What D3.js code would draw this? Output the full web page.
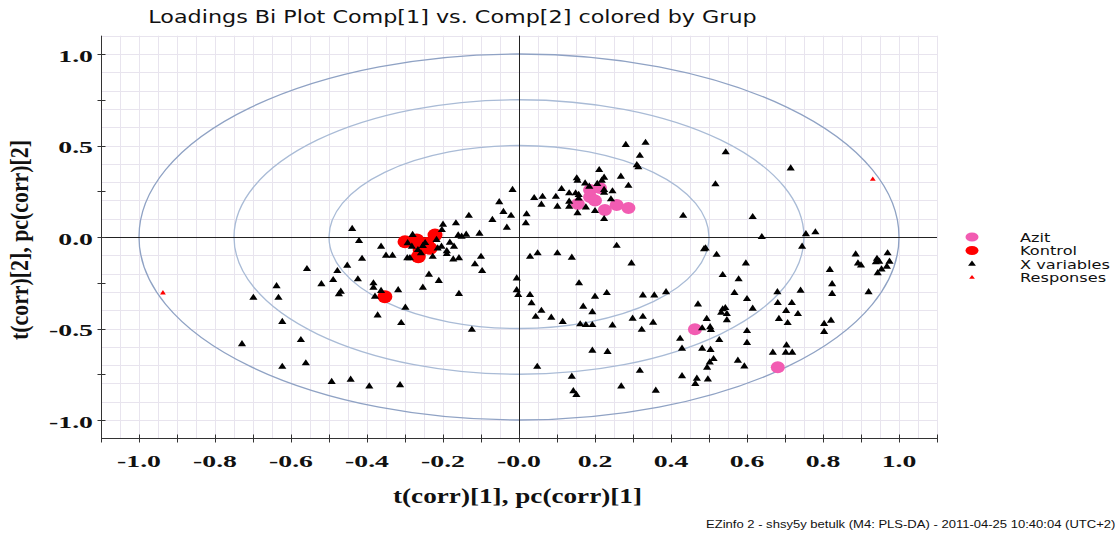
<!DOCTYPE html>
<html><head><meta charset="utf-8">
<script src="https://cdn.jsdelivr.net/npm/d3@7"></script>
<style>body{margin:0;background:#fff} svg{display:block}</style>
</head><body><svg id="c" width="1120" height="534"></svg>
<script>
// ---------- data ----------
const azit = [[0.155,0.180],[0.187,0.219],[0.187,0.257],[0.213,0.268],[0.226,0.148],[0.257,0.175],[0.288,0.158],[0.200,0.200],[0.463,-0.504],[0.681,-0.712]];
const kontrol = [[-0.300,-0.026],[-0.269,-0.016],[-0.221,0.011],[-0.260,-0.071],[-0.265,-0.108],[-0.234,-0.062],[-0.243,-0.035],[-0.353,-0.326]];
const xVariables = [
[-0.017,0.257],[-0.052,0.190],[-0.041,0.137],[-0.021,0.116],[-0.070,0.093],[-0.032,0.051],[-0.132,0.116],[-0.166,0.075],[-0.200,0.067],[-0.203,0.038],
[-0.104,0.018],[-0.139,0.013],[-0.160,0.009],[-0.151,0.002],[-0.439,0.044],[-0.421,-0.022],[-0.363,-0.053],[-0.350,-0.102],[-0.333,-0.102],[-0.413,-0.119],
[-0.452,-0.157],[-0.478,-0.186],[-0.558,-0.175],[-0.489,-0.235],[-0.520,-0.258],[-0.424,-0.231],[-0.383,-0.253],[-0.383,-0.277],[-0.469,-0.299],[-0.474,-0.313],
[-0.638,-0.269],[-0.699,-0.332],[-0.633,-0.332],[-0.379,-0.326],[-0.363,-0.295],[-0.318,-0.290],[-0.253,-0.277],[-0.211,-0.240],[-0.237,-0.206],[-0.158,-0.311],
[-0.299,-0.386],[-0.372,-0.428],[-0.310,-0.470],[-0.124,-0.507],[-0.623,-0.464],[-0.574,-0.563],[-0.729,-0.586],[-0.623,-0.709],[-0.561,-0.690],[-0.493,-0.792],
[-0.443,-0.780],[-0.394,-0.816],[-0.313,-0.810],[-0.100,-0.108],[-0.116,-0.149],[-0.097,-0.186],[-0.006,-0.226],[-0.006,-0.290],[-0.002,-0.317],[-0.280,0.011],
[-0.293,-0.034],[-0.282,-0.053],[-0.253,-0.049],[-0.217,-0.016],[-0.204,-0.053],[-0.182,-0.031],[-0.171,-0.053],[-0.190,-0.077],[-0.190,-0.093],[-0.173,-0.122],
[-0.158,-0.116],[-0.227,-0.108],[-0.258,-0.089],[-0.294,-0.116],[-0.287,-0.116],[-0.214,-0.062],[-0.266,-0.071],[-0.247,-0.033],
[0.281,0.503],[0.333,0.515],[0.318,0.444],[0.310,0.393],[0.314,0.381],[0.544,0.463],[0.715,0.375],[0.517,0.288],[0.615,0.109],[0.432,0.116],
[0.639,0.000],[0.755,0.016],[0.780,0.026],[0.745,-0.053],[0.491,-0.062],[0.487,-0.066],[0.520,-0.097],[0.597,-0.144],[0.536,-0.208],[0.578,-0.231],
[0.567,-0.306],[0.600,-0.339],[0.471,-0.368],[0.615,-0.392],[0.536,-0.395],[0.543,-0.388],[0.532,-0.414],[0.547,-0.421],[0.547,-0.454],[0.494,-0.448],
[0.482,-0.499],[0.503,-0.493],[0.505,-0.508],[0.600,-0.514],[0.527,-0.563],[0.600,-0.579],[0.424,-0.556],[0.429,-0.610],[0.482,-0.610],[0.504,-0.617],
[0.512,-0.667],[0.502,-0.685],[0.495,-0.714],[0.576,-0.676],[0.593,-0.707],[0.429,-0.760],[0.468,-0.774],[0.464,-0.803],[0.497,-0.778],[0.668,-0.632],
[0.704,-0.592],[0.702,-0.632],[0.719,-0.632],[0.680,-0.301],[0.741,-0.293],[0.681,-0.361],[0.718,-0.361],[0.703,-0.404],[0.734,-0.421],[0.684,-0.448],
[0.707,-0.470],[0.818,-0.180],[0.824,-0.258],[0.824,-0.311],[0.920,-0.301],[0.803,-0.475],[0.821,-0.457],[0.803,-0.519],[0.886,-0.095],[0.892,-0.144],
[0.900,-0.155],[0.942,-0.119],[0.948,-0.135],[0.970,-0.089],[0.975,-0.135],[0.968,-0.162],[0.954,-0.177],[0.944,-0.198],[0.939,-0.138],
[0.257,-0.048],[0.049,-0.089],[0.029,-0.108],[0.101,-0.089],[0.139,-0.113],[0.296,-0.144],[0.029,-0.317],[0.033,-0.362],[0.158,-0.253],[0.200,-0.326],
[0.231,-0.306],[0.326,-0.319],[0.356,-0.319],[0.387,-0.301],[0.169,-0.381],[0.193,-0.411],[0.059,-0.403],[0.044,-0.436],[0.085,-0.441],[0.115,-0.464],
[0.161,-0.477],[0.176,-0.481],[0.193,-0.481],[0.246,-0.483],[0.299,-0.446],[0.326,-0.436],[0.353,-0.468],[0.323,-0.507],[0.193,-0.621],[0.233,-0.628],
[0.048,-0.709],[0.139,-0.763],[0.318,-0.731],[0.269,-0.816],[0.360,-0.840],[0.143,-0.842],[0.151,-0.863],
[0.020,0.124],[0.018,0.075],[0.040,0.213],[0.062,0.220],[0.059,0.177],[0.097,0.220],[0.101,0.166],[0.112,0.262],[0.132,0.239],[0.132,0.193],
[0.132,0.166],[0.152,0.321],[0.154,0.308],[0.149,0.239],[0.157,0.230],[0.157,0.211],[0.154,0.130],[0.176,0.162],[0.174,0.293],[0.185,0.275],
[0.200,0.142],[0.211,0.366],[0.206,0.290],[0.218,0.308],[0.224,0.324],[0.224,0.257],[0.224,0.242],[0.246,0.250],[0.242,0.206],[0.224,0.098],
[0.268,0.330],[0.288,0.280]
];
const responses = [[-0.937,-0.306],[0.931,0.315]];
const xLabelValues = [-1.0,-0.8,-0.6,-0.4,-0.2,0.0,0.2,0.4,0.6,0.8,1.0];
const xTickLabels = ["-1.0","-0.8","-0.6","-0.4","-0.2","-0.0","0.2","0.4","0.6","0.8","1.0"];
const yLabelValues = [1.0,0.5,0.0,-0.5,-1.0];
const yTickLabels = ["1.0","0.5","0.0","-0.5","-1.0"];
const xMinorTicks = [-1.1,-1.0,-0.9,-0.8,-0.7,-0.6,-0.5,-0.4,-0.3,-0.2,-0.1,0,0.1,0.2,0.3,0.4,0.5,0.6,0.7,0.8,0.9,1.0,1.1];
const yMinorTicks = [1.0,0.75,0.5,0.25,0,-0.25,-0.5,-0.75,-1.0];
const ellipseRadii = [1.0,0.75,0.5];
const legendLabels = ["Azit","Kontrol","X variables","Responses"];
const titleText = "Loadings Bi Plot Comp[1] vs. Comp[2] colored by Grup";
const xTitle = "t(corr)[1], pc(corr)[1]";
const yTitle = "t(corr)[2], pc(corr)[2]";
const footerText = "EZinfo 2 - shsy5y betulk (M4: PLS-DA) - 2011-04-25 10:40:04 (UTC+2)";

// ---------- drawing ----------
const svg = d3.select("#c");
svg.append("rect").attr("width",1120).attr("height",534).attr("fill","#fff");
const x = d3.scaleLinear().domain([-1.1,1.1]).range([101,937]);
const y = d3.scaleLinear().domain([-1.1,1.1]).range([438.3,35.7]);

const gridX = d3.range(-22,23).map(i=>i*0.05);
const gridY = d3.range(-11,12).map(i=>i*0.1);
const g = svg.append("g");
g.selectAll("line.gx").data(gridX).join("line")
  .attr("x1",d=>Math.round(x(d))+0.5).attr("x2",d=>Math.round(x(d))+0.5)
  .attr("y1",y(1.1)).attr("y2",y(-1.1)).attr("stroke","#e8e4ee").attr("stroke-width",1);
g.selectAll("line.gy").data(gridY).join("line")
  .attr("y1",d=>Math.round(y(d))+0.5).attr("y2",d=>Math.round(y(d))+0.5)
  .attr("x1",x(-1.1)).attr("x2",x(1.1)).attr("stroke","#e8e4ee").attr("stroke-width",1);

// ellipses
svg.selectAll("ellipse.ring").data(ellipseRadii).join("ellipse")
  .attr("cx",x(0)).attr("cy",y(0))
  .attr("rx",d=>x(d)-x(0)).attr("ry",d=>y(0)-y(d))
  .attr("fill","none").attr("stroke",(d,i)=>i===0?"#8fa2c4":"#a9bbd6").attr("stroke-width",1.3);

// zero lines
svg.append("line").attr("x1",Math.round(x(0))+0.5).attr("x2",Math.round(x(0))+0.5).attr("y1",y(1.1)).attr("y2",y(-1.1)).attr("stroke","#222");
svg.append("line").attr("y1",Math.round(y(0))+0.5).attr("y2",Math.round(y(0))+0.5).attr("x1",x(-1.1)).attr("x2",x(1.1)).attr("stroke","#222");

// axes lines
const ax = Math.round(x(-1.1))+0.5, ay = Math.round(y(-1.1))+0.5;
svg.append("line").attr("x1",ax).attr("x2",ax).attr("y1",y(1.1)).attr("y2",ay).attr("stroke","#333");
svg.append("line").attr("x1",ax).attr("x2",x(1.1)).attr("y1",ay).attr("y2",ay).attr("stroke","#333");
svg.selectAll("line.yt").data(yMinorTicks).join("line")
  .attr("x1",ax-4).attr("x2",ax+4).attr("y1",d=>Math.round(y(d))+0.5).attr("y2",d=>Math.round(y(d))+0.5).attr("stroke","#333");
svg.selectAll("line.xt").data(xMinorTicks).join("line")
  .attr("y1",ay-4).attr("y2",ay+4).attr("x1",d=>Math.round(x(d))+0.5).attr("x2",d=>Math.round(x(d))+0.5).attr("stroke","#333");

// helper for horizontally stretched text
function fitScale(fontFamily, weight, size, str, target){
  const t = svg.append("text").attr("font-family",fontFamily).attr("font-weight",weight).attr("font-size",size).text(str);
  const w = t.node().getComputedTextLength(); t.remove(); return target / w;
}
const serif = "'Liberation Serif', 'Times New Roman', serif";
const sans = "'DejaVu Sans', Verdana, sans-serif";

// tick labels
const tickSx = fitScale(serif,"bold",16,"-1.0",44);
svg.selectAll("text.xl").data(xLabelValues).join("text")
  .attr("transform",d=>`translate(${x(d)},467) scale(${tickSx},1)`)
  .attr("text-anchor","middle").attr("font-family",serif).attr("font-weight","bold").attr("font-size",16)
  .attr("fill","#111").text((d,i)=>xTickLabels[i]);
svg.selectAll("text.yl").data(yLabelValues).join("text")
  .attr("transform",d=>`translate(93,${y(d)+7.5}) scale(${tickSx},1)`)
  .attr("text-anchor","end").attr("font-family",serif).attr("font-weight","bold").attr("font-size",16)
  .attr("fill","#111").text((d,i)=>yTickLabels[i]);

// axis titles
const xtSx = fitScale(serif,"bold",20,xTitle,249);
svg.append("text").attr("transform",`translate(517.5,503) scale(${xtSx},1)`)
  .attr("text-anchor","middle").attr("font-family",serif).attr("font-weight","bold").attr("font-size",20).attr("fill","#111").text(xTitle);
const ytLen = fitScale(serif,"bold",20,yTitle,200);
svg.append("text").attr("transform",`translate(28,240) rotate(-90) scale(${ytLen},1.25)`)
  .attr("text-anchor","middle").attr("font-family",serif).attr("font-weight","bold").attr("font-size",20).attr("fill","#111").text(yTitle);

// title
const tSx = fitScale(sans,"normal",17,titleText,609);
svg.append("text").attr("transform",`translate(452.5,23) scale(${tSx},1)`)
  .attr("text-anchor","middle").attr("font-family",sans).attr("font-size",17).attr("fill","#111").text(titleText);

// footer
const fSx = fitScale("'Liberation Sans', Arial, sans-serif","normal",10,footerText,410);
svg.append("text").attr("transform",`translate(706,528) scale(${fSx},1)`)
  .attr("font-family","'Liberation Sans', Arial, sans-serif").attr("font-size",10).attr("fill","#111").text(footerText);

// points
const pts = svg.append("g");
pts.selectAll("ellipse.az").data(azit).join("ellipse")
  .attr("cx",d=>x(d[0])).attr("cy",d=>y(d[1])).attr("rx",7).attr("ry",6).attr("fill","#f25cb2");
pts.selectAll("ellipse.ko").data(kontrol).join("ellipse")
  .attr("cx",d=>x(d[0])).attr("cy",d=>y(d[1])).attr("rx",7.5).attr("ry",6.5).attr("fill","#ff0000");
const tri = d3.symbol().type(d3.symbolTriangle).size(22);
const triS = d3.symbol().type(d3.symbolTriangle).size(11);
pts.selectAll("path.xv").data(xVariables).join("path")
  .attr("d",tri).attr("transform",d=>`translate(${x(d[0])},${y(d[1])}) scale(1.15,1)`).attr("fill","#000");
pts.selectAll("path.rs").data(responses).join("path")
  .attr("d",triS).attr("transform",d=>`translate(${x(d[0])},${y(d[1])}) scale(1.15,1)`).attr("fill","#ff0000");

// legend
const legY = [237,250.5,264,277.5];
const lg = svg.append("g");
lg.append("ellipse").attr("cx",972).attr("cy",legY[0]).attr("rx",6.5).attr("ry",4.5).attr("fill","#f25cb2");
lg.append("ellipse").attr("cx",972).attr("cy",legY[1]).attr("rx",6.5).attr("ry",4.5).attr("fill","#ff0000");
lg.append("path").attr("d",tri).attr("transform",`translate(972,${legY[2]}) scale(1.1,0.85)`).attr("fill","#000");
lg.append("path").attr("d",triS).attr("transform",`translate(972,${legY[3]}) scale(1.15,0.9)`).attr("fill","#ff0000");
const lSx = fitScale(sans,"normal",12,"X variables",90);
lg.selectAll("text").data(legendLabels).join("text")
  .attr("transform",(d,i)=>`translate(1020,${legY[i]+4.5}) scale(${lSx},1)`)
  .attr("font-family",sans).attr("font-size",12).attr("fill","#111").text(d=>d);
</script></body></html>
